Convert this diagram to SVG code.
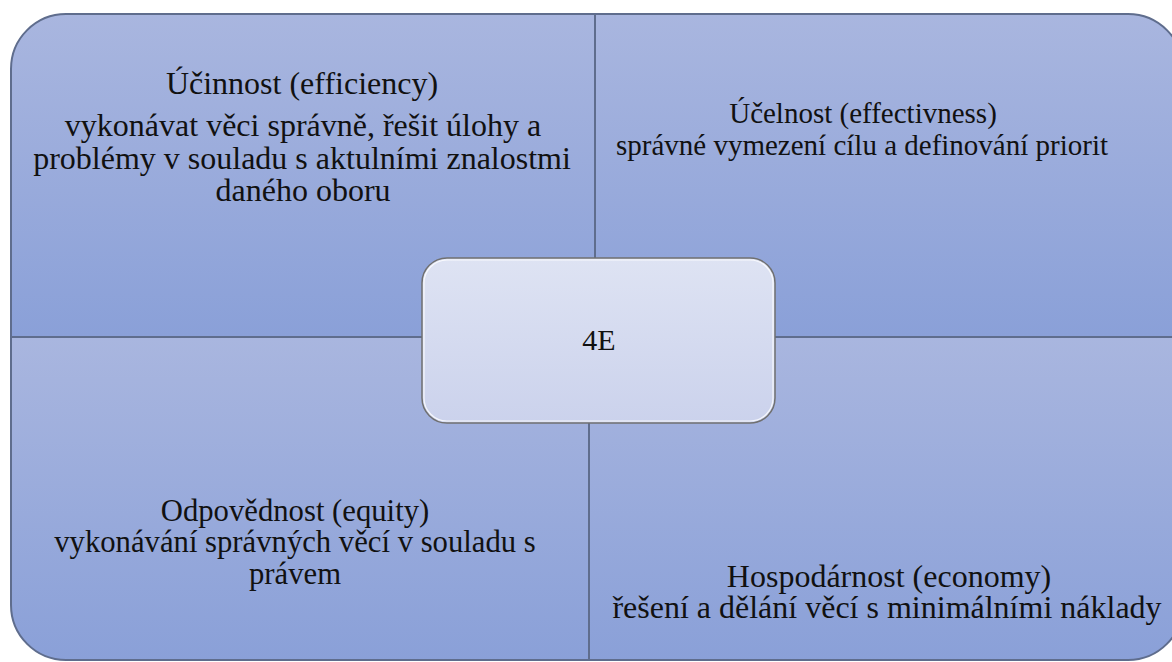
<svg xmlns="http://www.w3.org/2000/svg" width="1172" height="662" viewBox="0 0 1172 662">
<style>
.q{stroke:#5f6d8d;stroke-width:2}
.t{font-family:'Liberation Serif','Times New Roman',serif;fill:#111;text-anchor:middle}
</style>
<defs>
<linearGradient id="gq" x1="0" y1="0" x2="0" y2="1">
<stop offset="0" stop-color="#a9b6df"/>
<stop offset="1" stop-color="#8aa0d8"/>
</linearGradient>
<linearGradient id="gc" x1="0" y1="0" x2="0" y2="1">
<stop offset="0" stop-color="#dee3f3"/>
<stop offset="1" stop-color="#cbd2ec"/>
</linearGradient>
</defs>
<rect width="1172" height="662" fill="#ffffff"/>
<g id="q-efficiency">
<path class="q" fill="url(#gq)" d="M11,69 A55,55 0 0 1 66,14 L595,14 L595,337 L11,337 Z"/>
<text class="t" font-size="32" x="302" y="94">Účinnost (efficiency)</text>
<text class="t" font-size="32" x="303" y="136">vykonávat věci správně, řešit úlohy a</text>
<text class="t" font-size="32" x="302" y="169">problémy v souladu s aktulními znalostmi</text>
<text class="t" font-size="32" x="303" y="201">daného oboru</text>
</g>
<g id="q-effectiveness">
<path class="q" fill="url(#gq)" d="M595,14 L1128,14 A55,55 0 0 1 1183,69 L1183,337 L595,337 Z"/>
<text class="t" font-size="29" x="863" y="123">Účelnost (effectivness)</text>
<text class="t" font-size="29" x="862" y="155">správné vymezení cílu a definování priorit</text>
</g>
<g id="q-equity">
<path class="q" fill="url(#gq)" d="M11,337 L589,337 L589,660 L66,660 A55,55 0 0 1 11,605 Z"/>
<text class="t" font-size="30.7" x="295" y="521">Odpovědnost (equity)</text>
<text class="t" font-size="30.7" x="295" y="552">vykonávání správných věcí v souladu s</text>
<text class="t" font-size="30.7" x="295" y="584">právem</text>
</g>
<g id="q-economy">
<path class="q" fill="url(#gq)" d="M589,337 L1183,337 L1183,605 A55,55 0 0 1 1128,660 L589,660 Z"/>
<text class="t" font-size="32" x="889" y="587">Hospodárnost (economy)</text>
<text class="t" font-size="32" x="887" y="618">řešení a dělání věcí s minimálními náklady</text>
</g>
<g id="connectors"></g>
<g id="center-4e">
<rect x="422" y="258" width="353" height="165" rx="25" ry="25" fill="url(#gc)" stroke="#707070" stroke-width="1.5"/>
<rect x="424" y="260" width="349" height="161" rx="23" ry="23" fill="none" stroke="#ffffff" stroke-width="1.2" opacity="0.8"/>
<text class="t" font-size="30" x="599" y="350">4E</text>
</g>
</svg>
